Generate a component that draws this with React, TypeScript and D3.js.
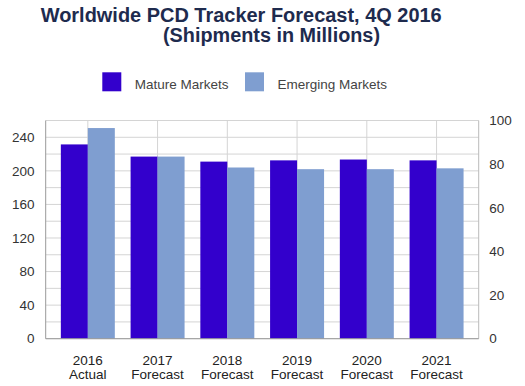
import React from "react";
import * as d3 from "d3";

const categories = ["2016|Actual", "2017|Forecast", "2018|Forecast", "2019|Forecast", "2020|Forecast", "2021|Forecast"];
const matureMarkets = [231.5, 217, 211, 212.5, 213.5, 212.5];
const emergingMarkets = [251, 217, 204, 202, 202, 203];
const seriesNames = ["Mature Markets", "Emerging Markets"];
const leftTicks = [0, 40, 80, 120, 160, 200, 240];
const rightTicks = [0, 20, 40, 60, 80, 100];

const W = 525, H = 386;
const M = { left: 45.7, right: 478.7, top: 120.5, bottom: 338.7 };
const COLORS = ["#3300CC", "#7F9ED0"];
const FONT = "'Liberation Sans', Arial, sans-serif";

export default function App() {
  const x = d3.scaleBand<string>().domain(categories).range([M.left, M.right]).paddingInner(0).paddingOuter(0.104);
  const y = d3.scaleLinear().domain([0, 260]).range([M.bottom, M.top]);
  const yR = d3.scaleLinear().domain([0, 100]).range([M.bottom, M.top]);
  const step = x.bandwidth();
  const barW = step * 0.387;
  const gridY = d3.range(0, 261, 20);
  const series = [matureMarkets, emergingMarkets];

  return (
    <svg width={W} height={H} style={{ position: "absolute", left: 0, top: 0, background: "#fff" }} fontFamily={FONT}>
      <rect x={0} y={0} width={W} height={H} fill="#fff" />
      <text x={40.7} y={21.5} fontSize={19.5} fontWeight="bold" fill="#1E2B4E" textLength={401} lengthAdjust="spacingAndGlyphs">Worldwide PCD Tracker Forecast, 4Q 2016</text>
      <text x={163} y={41.5} fontSize={19.5} fontWeight="bold" fill="#1E2B4E" textLength={217} lengthAdjust="spacingAndGlyphs">(Shipments in Millions)</text>

      {/* legend */}
      {seriesNames.map((n, i) => {
        const lx = [102.3, 245][i];
        return (
          <g key={n}>
            <rect x={lx} y={72.3} width={19} height={19} fill={COLORS[i]} />
            <text x={lx + 32.5} y={89} fontSize={13.5} fill="#444">{n}</text>
          </g>
        );
      })}

      {/* grid */}
      {gridY.map((v) => (
        <line key={"h" + v} x1={M.left} x2={M.right} y1={y(v)} y2={y(v)} stroke="#d4d4d4" strokeWidth={1} />
      ))}
      {categories.map((c) => (
        <line key={"v" + c} x1={x(c)! + step / 2} x2={x(c)! + step / 2} y1={M.top} y2={M.bottom} stroke="#d4d4d4" strokeWidth={1} />
      ))}
      <line x1={M.right} x2={M.right} y1={M.top} y2={M.bottom} stroke="#bbb" />

      {/* bars */}
      {series.map((s, si) =>
        s.map((v, i) => {
          const cx = x(categories[i])! + step / 2;
          return (
            <rect key={si + "-" + i} x={si === 0 ? cx - barW : cx} y={y(v)} width={barW} height={y(0) - y(v)} fill={COLORS[si]} />
          );
        })
      )}

      {/* axes lines */}
      <line x1={M.left} x2={M.left} y1={M.top} y2={M.bottom} stroke="#999" />
      <line x1={M.left} x2={M.right} y1={M.bottom} y2={M.bottom} stroke="#999" />

      {leftTicks.map((t) => (
        <text key={"l" + t} x={34.5} y={y(t)} dy="0.35em" textAnchor="end" fontSize={13.5} fill="#333">{t}</text>
      ))}
      {rightTicks.map((t) => (
        <text key={"r" + t} x={489.3} y={yR(t)} dy="0.35em" textAnchor="start" fontSize={13.5} fill="#333">{t}</text>
      ))}

      {categories.map((c) => {
        const [a, b] = c.split("|");
        const cx = x(c)! + step / 2;
        return (
          <g key={"x" + c}>
            <text x={cx} y={365} textAnchor="middle" fontSize={13.5} fill="#222">{a}</text>
            <text x={cx} y={378.5} textAnchor="middle" fontSize={13.5} fill="#222">{b}</text>
          </g>
        );
      })}
    </svg>
  );
}
